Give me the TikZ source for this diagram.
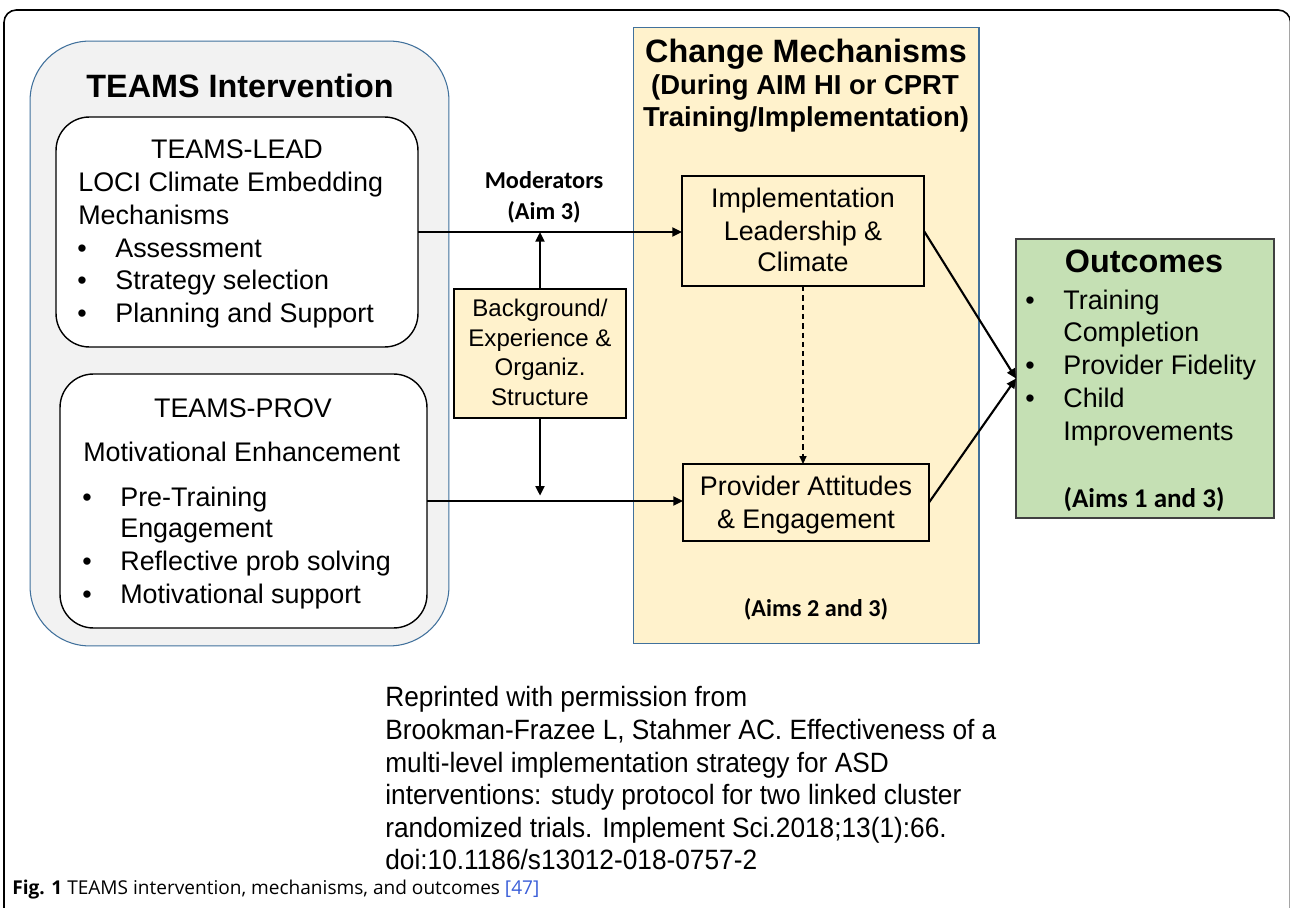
\documentclass[tikz,border=0pt]{standalone}
\usepackage{fontspec}
\setmainfont{Liberation Sans}
\newfontfamily\calibri{Carlito}
\newfontfamily\capfont{Open Sans}
\newfontfamily\narrowfont[FakeStretch=0.94]{Liberation Sans}
\usepackage{xcolor}
\usetikzlibrary{arrows.meta,positioning}

\definecolor{panelgray}{HTML}{F2F2F2}
\definecolor{panelblue}{HTML}{41719C}
\definecolor{mechyellow}{HTML}{FFF2CC}
\definecolor{outgreen}{HTML}{C5E0B4}
\definecolor{refblue}{HTML}{3B5FD9}

\tikzset{
  panel/.style={draw=panelblue, line width=0.6pt, inner sep=0, outer sep=0},
  roundbox/.style={draw, fill=white, line width=0.8pt, rounded corners=19pt, inner sep=0, outer sep=0},
  mechbox/.style={draw, fill=mechyellow, line width=0.8pt, inner sep=0, outer sep=0},
  lbl/.style={inner sep=0, anchor=base},
  lblw/.style={inner sep=0, anchor=base west},
  ttl/.style={font=\fontsize{18.4}{22}\selectfont\bfseries},
  sub/.style={font=\fontsize{15.6}{18}\selectfont\bfseries},
  body/.style={font=\fontsize{15.3}{18.5}\selectfont},
  small/.style={font=\fontsize{13.7}{16}\selectfont},
  aim/.style={font=\calibri\fontsize{13.8}{16}\selectfont\bfseries},
  arr/.style={-{Triangle[length=5.5pt,width=5pt]}, line width=1.4pt},
}

\begin{document}
\begin{tikzpicture}[x=0.02cm,y=-0.02cm]
  \clip (0,0) rectangle (1290,908);
  \fill[white] (0,0) rectangle (1290,908);
  % outer frame
  \draw[line width=0.9pt, rounded corners=7pt] (4,940) -- (4,10) -- (1290.5,10) -- (1290.5,940);

  % TEAMS intervention panel
  \node[panel, fill=panelgray, rounded corners=34pt, minimum width=8.38cm, minimum height=12.1cm] (intv) at (239.5,343.5) {};
  \node[ttl, lbl] (intvttl) at (240,98) {TEAMS Intervention};

  \node[roundbox, minimum width=7.24cm, minimum height=4.6cm] (lead) at (237,232) {};
  \node[body, lbl] (leadttl) at (237,159) {TEAMS-LEAD};
  \node[body, lblw] (leadl1) at (78,192) {LOCI Climate Embedding};
  \node[body, lblw] (leadl2) at (78,225) {Mechanisms};
  \foreach \txt/\yy [count=\i] in {Assessment/258, Strategy selection/290, Planning and Support/323} {
    \node[body, lblw] (leadb\i) at (77,\yy) {\textbullet};
    \node[body, lblw] (leadi\i) at (115,\yy) {\txt};
  }

  \node[roundbox, minimum width=7.34cm, minimum height=5.08cm] (prov) at (243.5,501) {};
  \node[body, lbl] (provttl) at (243,418) {TEAMS-PROV};
  \node[body, lblw] (provl1) at (83,461) {Motivational Enhancement};
  \foreach \txt/\yy/\b [count=\i] in {Pre-Training/506/1, Engagement/537/0, Reflective prob solving/570/1, Motivational support/603/1} {
    \ifnum\b=1 \node[body, lblw] (provb\i) at (82,\yy) {\textbullet}; \fi
    \node[body, lblw] (provi\i) at (120,\yy) {\txt};
  }

  % change mechanisms panel
  \node[panel, fill=mechyellow, minimum width=6.92cm, minimum height=12.34cm] (change) at (806,335.5) {};
  \node[ttl, lbl] (changettl) at (806,63) {Change Mechanisms};
  \node[sub, lbl] (changes1) at (805,95) {(During AIM HI or CPRT};
  \node[sub, lbl] (changes2) at (806,127) {Training/Implementation)};
  \node[aim, lbl] (changeaim) at (816,616) {(Aims 2 and 3)};

  \node[mechbox, minimum width=4.84cm, minimum height=2.2cm] (impl) at (803,231) {};
  \node[body, lbl] (impl1) at (803,208) {Implementation};
  \node[body, lbl] (impl2) at (803,241) {Leadership \&};
  \node[body, lbl] (impl3) at (803,272) {Climate};

  \node[mechbox, minimum width=4.92cm, minimum height=1.54cm] (provatt) at (806,502.5) {};
  \node[body, lbl] (provatt1) at (806,495) {Provider Attitudes};
  \node[body, lbl] (provatt2) at (806,528) {\& Engagement};

  % moderators
  \node[mechbox, minimum width=3.44cm, minimum height=2.58cm] (bg) at (540,353.5) {};
  \foreach \txt/\yy [count=\i] in {{Background/}/317, {Experience \&}/347, Organiz./376, Structure/405} {
    \node[small, lbl] (bg\i) at (540,\yy) {\txt};
  }
  \node[aim, lbl] (mod1) at (544,189) {Moderators};
  \node[aim, lbl] (mod2) at (544,220) {(Aim 3)};

  % outcomes
  \node[draw=black!75, fill=outgreen, line width=0.8pt, inner sep=0, outer sep=0, minimum width=5.16cm, minimum height=5.58cm] (outc) at (1145,378.5) {};
  \node[ttl, lbl] (outcttl) at (1144,273) {Outcomes};
  \foreach \txt/\yy/\b [count=\i] in {Training/310/1, Completion/342/0, Provider Fidelity/375/1, Child/407/1, Improvements/440/0} {
    \ifnum\b=1 \node[body, lblw] (outcb\i) at (1025,\yy) {\textbullet}; \fi
    \node[body, lblw] (outci\i) at (1063,\yy) {\txt};
  }
  \node[aim, lbl, font=\calibri\fontsize{15.4}{18}\selectfont\bfseries] (outcaim) at (1144,507) {(Aims 1 and 3)};

  % connectors
  \draw[arr] (lead.east) -- (lead.east -| impl.west);
  \draw[arr] (prov.east) -- (prov.east -| provatt.west);
  \draw[arr] (bg.north) -- (bg.north |- lead.east);
  \draw[arr, shorten >=3pt] (bg.south) -- (bg.south |- prov.east);
  \draw[-{Triangle[length=4.5pt,width=4pt]}, line width=0.8pt, dash pattern=on 3pt off 2.3pt] (impl.south) -- (impl.south |- provatt.north);
  \draw[arr, line width=1.2pt] (impl.east) -- (outc.west);
  \draw[arr, line width=1.2pt] (provatt.east) -- (outc.west);

  % citation
  \foreach \txt/\yy [count=\i] in {{Reprinted with permission from}/706, {Brookman-Frazee L, Stahmer AC. Effectiveness of a}/739, {multi-level implementation strategy for ASD}/772, {interventions: study protocol for two linked cluster}/804, {randomized trials. Implement Sci.2018;13(1):66.}/837, {doi:10.1186/s13012-018-0757-2}/869} {
    \node[lblw, font=\narrowfont\fontsize{15.9}{18.5}\selectfont] (cite\i) at (385,\yy) {\txt};
  }
  \node[lblw, font=\capfont\fontsize{10.85}{13}\selectfont] (caption) at (12,894) {\textbf{Fig. 1} TEAMS intervention, mechanisms, and outcomes \textcolor{refblue}{[47]}};
\end{tikzpicture}
\end{document}
